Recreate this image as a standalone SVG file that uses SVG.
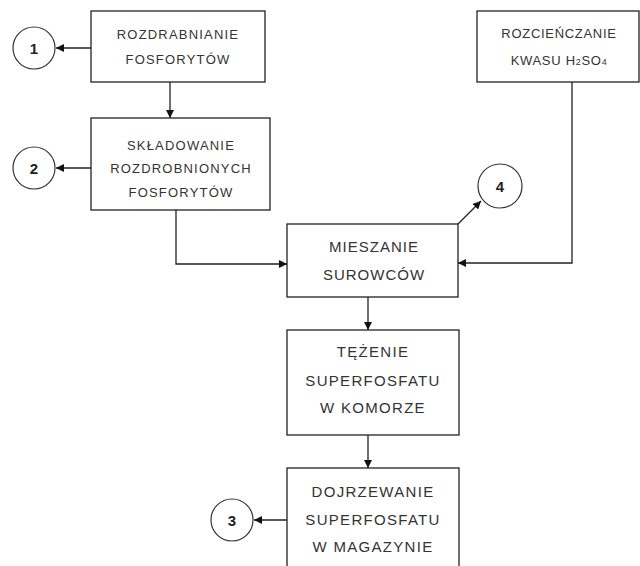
<svg xmlns="http://www.w3.org/2000/svg" width="640" height="566" viewBox="0 0 640 566">
<style>
.box{fill:#fff;stroke:#222;stroke-width:1.3}
.circ{fill:#fff;stroke:#333;stroke-width:1.2}
.t{font-family:"Liberation Sans",Arial,sans-serif;font-size:13px;fill:#333;text-anchor:middle;letter-spacing:1.2px}
.tl{font-family:"Liberation Sans",Arial,sans-serif;font-size:15px;fill:#333;text-anchor:middle;letter-spacing:1.3px}
.n{font-family:"Liberation Sans",Arial,sans-serif;font-size:15px;font-weight:bold;fill:#222;text-anchor:middle}
.c{fill:none;stroke:#222;stroke-width:1.3}
</style>
<defs>
<marker id="ah" viewBox="0 0 10 10" refX="10" refY="5" markerWidth="8" markerHeight="8" markerUnits="userSpaceOnUse" orient="auto">
<path d="M0,0 L10,5 L0,10 Z" fill="#111"/>
</marker>
</defs>
<g id="connectors">
<line class="c" x1="91" y1="48" x2="56" y2="48" marker-end="url(#ah)"/>
<line class="c" x1="170" y1="82" x2="170" y2="118" marker-end="url(#ah)"/>
<line class="c" x1="91" y1="168" x2="56" y2="168" marker-end="url(#ah)"/>
<polyline class="c" points="176,210 176,264 287,264" marker-end="url(#ah)"/>
<polyline class="c" points="572,82 572,263 458,263" marker-end="url(#ah)"/>
<line class="c" x1="458" y1="224" x2="481" y2="201" marker-end="url(#ah)"/>
<line class="c" x1="368" y1="297" x2="368" y2="330" marker-end="url(#ah)"/>
<line class="c" x1="368" y1="435" x2="368" y2="468" marker-end="url(#ah)"/>
<line class="c" x1="287" y1="520" x2="254" y2="520" marker-end="url(#ah)"/>
</g>
<g id="n1">
<circle class="circ" cx="34" cy="48" r="21"/>
<text class="n" x="34" y="54">1</text>
</g>
<g id="n2">
<circle class="circ" cx="34" cy="168" r="21"/>
<text class="n" x="34" y="174">2</text>
</g>
<g id="n3">
<circle class="circ" cx="232" cy="520" r="21"/>
<text class="n" x="232" y="526">3</text>
</g>
<g id="n4">
<circle class="circ" cx="500" cy="186" r="22"/>
<text class="n" x="500" y="192">4</text>
</g>
<g id="rozdrabnianie">
<rect class="box" x="91" y="11" width="174" height="71"/>
<text class="t" x="178" y="39">ROZDRABNIANIE</text>
<text class="t" x="178" y="64">FOSFORYTÓW</text>
</g>
<g id="skladowanie">
<rect class="box" x="91" y="118" width="179" height="92"/>
<text class="t" x="181" y="150">SKŁADOWANIE</text>
<text class="t" x="181" y="173">ROZDROBNIONYCH</text>
<text class="t" x="181" y="197">FOSFORYTÓW</text>
</g>
<g id="rozcienczanie">
<rect class="box" x="477" y="11" width="162" height="71"/>
<text class="t" x="559" y="38" style="letter-spacing:0.7px">ROZCIEŃCZANIE</text>
<text class="t" x="559" y="65" style="letter-spacing:0.7px">KWASU H<tspan font-size="9">2</tspan>SO<tspan font-size="9">4</tspan></text>
</g>
<g id="mieszanie">
<rect class="box" x="287" y="224" width="171" height="73"/>
<text class="tl" x="374" y="252" style="letter-spacing:1px">MIESZANIE</text>
<text class="tl" x="374" y="280" style="letter-spacing:1px">SUROWCÓW</text>
</g>
<g id="tezenie">
<rect class="box" x="287" y="330" width="172" height="105"/>
<text class="tl" x="373" y="357">TĘŻENIE</text>
<text class="tl" x="373" y="386">SUPERFOSFATU</text>
<text class="tl" x="373" y="413">W KOMORZE</text>
</g>
<g id="dojrzewanie">
<rect class="box" x="287" y="468" width="172" height="110"/>
<text class="tl" x="373" y="497">DOJRZEWANIE</text>
<text class="tl" x="373" y="525">SUPERFOSFATU</text>
<text class="tl" x="373" y="552">W MAGAZYNIE</text>
</g>
</svg>
